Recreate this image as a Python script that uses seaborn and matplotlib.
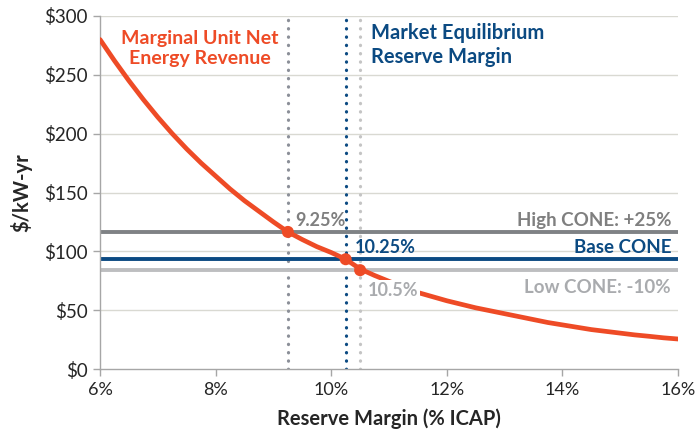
import numpy as np
import pandas as pd
import matplotlib
matplotlib.use("Agg")
import matplotlib.pyplot as plt
import seaborn as sns

# reserve margin (%) vs marginal unit net energy revenue ($/kW-yr)
reserve_margin = [6.0, 6.25, 6.5, 6.75, 7.0, 7.25, 7.5, 7.75, 8.0, 8.25, 8.5, 8.75,
                  9.0, 9.25, 9.5, 9.75, 10.0, 10.25, 10.5, 10.75, 11.0, 11.25,
                  11.5, 11.75, 12.0, 12.25, 12.5, 12.75, 13.0, 13.25, 13.5, 13.75,
                  14.0, 14.25, 14.5, 14.75, 15.0, 15.25, 15.5, 15.75, 16.0]
net_revenue = [280, 262, 245, 229, 214, 200, 187, 175, 164, 153, 143, 134,
               125, 116.5, 110, 104, 99, 93.3, 85, 79.5, 74.5, 69.5,
               65, 61.5, 58, 55, 52, 49.5, 47, 44.5, 42, 39.5,
               37.5, 35.5, 33.5, 32, 30.5, 29, 27.8, 26.5, 25.5]

cone_names = ["High CONE: +25%", "Base CONE", "Low CONE: -10%"]
cone_values = [116.5, 93.3, 84.0]
equilibrium_rm = [9.25, 10.25, 10.5]
equilibrium_labels = ["9.25%", "10.25%", "10.5%"]

x_ticks = [6, 8, 10, 12, 14, 16]
y_ticks = [0, 50, 100, 150, 200, 250, 300]

ORANGE = "#EE4B26"
NAVY = "#0B4A82"
DARK_GRAY = "#7F8285"
LIGHT_GRAY = "#BDBEC0"
cone_colors = [DARK_GRAY, NAVY, LIGHT_GRAY]
text_colors = ["#7F7F7F", NAVY, "#A9ABAE"]
vline_colors = ["#8B8F98", NAVY, "#C4C4C4"]

sns.set_theme(style="white")
plt.rcParams["font.family"] = ["Lato", "DejaVu Sans"]

fig = plt.figure(figsize=(6.95, 4.38), dpi=100)
ax = fig.add_axes([0.1439, 0.1575, 0.8317, 0.806])

# gridlines
for yv in y_ticks[1:]:
    ax.axhline(yv, color="#D9D9D2", lw=1.0, zorder=0)

# vertical dotted lines
for xv, c in zip(equilibrium_rm, vline_colors):
    ax.axvline(xv, color=c, lw=2.3, linestyle=(0, (0.1, 2.5)),
               dash_capstyle="round", zorder=1)

# CONE lines
for yv, c in zip(cone_values, cone_colors):
    ax.axhline(yv, color=c, lw=2.8, zorder=2)

df = pd.DataFrame({"rm": reserve_margin, "rev": net_revenue})
sns.lineplot(data=df, x="rm", y="rev", color=ORANGE, lw=3.4, ax=ax, zorder=3)

pts = pd.DataFrame({"rm": equilibrium_rm, "rev": cone_values})
sns.scatterplot(data=pts, x="rm", y="rev", color=ORANGE, s=75,
                edgecolor="none", ax=ax, zorder=5)

# labels
bold = dict(fontweight="bold")
ax.text(7.72, 272.5, "Marginal Unit Net\nEnergy Revenue", color=ORANGE,
        ha="center", va="center", fontsize=14, linespacing=1.25, **bold)
ax.text(10.68, 275, "Market Equilibrium\nReserve Margin", color=NAVY,
        ha="left", va="center", fontsize=14.5, linespacing=1.25, **bold)

ax.text(9.37, 126.6, equilibrium_labels[0], color=text_colors[0],
        ha="left", va="center", fontsize=13, **bold)
ax.text(10.41, 103, equilibrium_labels[1], color=text_colors[1],
        ha="left", va="center", fontsize=13, **bold)
ax.text(10.63, 67, equilibrium_labels[2], color=text_colors[2],
        ha="left", va="center", fontsize=13, zorder=6,
        bbox=dict(facecolor="white", edgecolor="none", pad=1.5), **bold)

for name, yv, c in zip(cone_names, [126.6, 103, 69], text_colors):
    ax.text(15.88, yv, name, color=c, ha="right", va="center",
            fontsize=13.5, **bold)

ax.set_xlim(6, 16)
ax.set_ylim(0, 300)
ax.set_xticks(x_ticks)
ax.set_xticklabels([f"{t}%" for t in x_ticks], fontsize=13)
ax.set_yticks(y_ticks)
ax.set_yticklabels([f"${t}" for t in y_ticks], fontsize=13.5)
ax.tick_params(axis="both", direction="out", length=5, width=1,
               color="#A6A6A6", bottom=True, left=True, pad=4)
ax.set_xlabel("Reserve Margin (% ICAP)", fontsize=14.5, fontweight="bold", labelpad=8)
ax.set_ylabel("$/kW-yr", fontsize=14.5, fontweight="bold", labelpad=8)

for side in ["top", "right"]:
    ax.spines[side].set_visible(False)
for side in ["left", "bottom"]:
    ax.spines[side].set_color("#A6A6A6")
    ax.spines[side].set_linewidth(1)

fig.savefig("out.png", dpi=100)
